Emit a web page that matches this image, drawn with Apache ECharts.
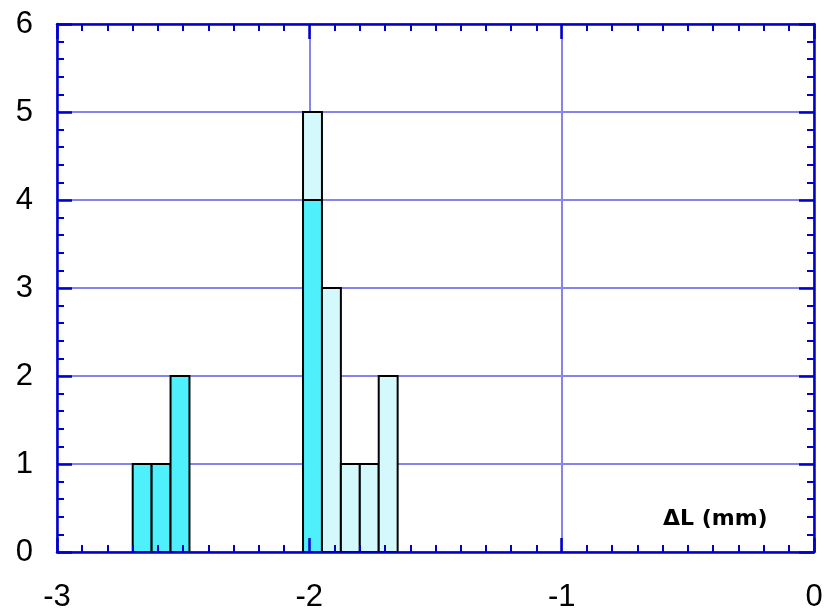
<!DOCTYPE html>
<html>
<head>
<meta charset="utf-8">
<script src="https://cdn.jsdelivr.net/npm/echarts@6/dist/echarts.min.js"></script>
<style>html,body{margin:0;padding:0;background:#fff;}#chart{width:830px;height:614px;}</style>
</head>
<body>
<div id="chart"></div>
<script>
// Histogram bins (ΔL, mm)
const binStarts = [-2.7, -2.625, -2.55, -2.025, -1.95, -1.875, -1.8, -1.725];
const binWidth = 0.075;
const cyanCounts  = [1, 1, 2, 4, 0, 0, 0, 0];
const lightCounts = [0, 0, 0, 1, 3, 1, 1, 2];
const xTicks = [-3, -2, -1, 0];
const yTicks = [0, 1, 2, 3, 4, 5, 6];
const axisTitle = 'ΔL (mm)';

const AXIS = '#0000cc';
const GRID = '#8585ea';
const LABEL_FONT = '"Liberation Sans", Arial, sans-serif';

const cyanData = [], lightData = [];
binStarts.forEach((s, i) => {
  if (cyanCounts[i] > 0) cyanData.push([s, s + binWidth, 0, cyanCounts[i]]);
  if (lightCounts[i] > 0) lightData.push([s, s + binWidth, cyanCounts[i], cyanCounts[i] + lightCounts[i]]);
});

function makeRender(color) {
  return function (params, api) {
    const p0 = api.coord([api.value(0), api.value(2)]);
    const p1 = api.coord([api.value(1), api.value(3)]);
    return {
      type: 'rect',
      shape: { x: p0[0], y: p1[1], width: p1[0] - p0[0], height: p0[1] - p1[1] },
      style: { fill: color, stroke: '#000', lineWidth: 2 }
    };
  };
}

const xMin = xTicks[0], xMax = xTicks[xTicks.length - 1];
const yMin = yTicks[0], yMax = yTicks[yTicks.length - 1];

const chart = echarts.init(document.getElementById('chart'), null, { renderer: 'canvas' });
chart.setOption({
  animation: false,
  grid: { left: 57, right: 16, top: 24, bottom: 62 },
  xAxis: [
    {
      type: 'value', position: 'bottom', min: xMin, max: xMax, interval: 1, z: 10,
      axisLine: { show: true, onZero: false, lineStyle: { color: AXIS, width: 2.5 } },
      axisTick: { show: true, inside: true, length: 14, lineStyle: { color: AXIS, width: 2.5 } },
      minorTick: { show: true, splitNumber: 10, length: 7, lineStyle: { color: AXIS, width: 2 } },
      axisLabel: { show: true, margin: 30, color: '#000', fontSize: 31, fontFamily: LABEL_FONT },
      splitLine: { show: false }
    },
    {
      type: 'value', position: 'top', min: xMin, max: xMax, interval: 1, z: 0,
      axisLine: { show: true, onZero: false, lineStyle: { color: AXIS, width: 2.5 } },
      axisTick: { show: true, inside: true, length: 15, lineStyle: { color: AXIS, width: 2.5 } },
      minorTick: { show: true, splitNumber: 10, length: 7, lineStyle: { color: AXIS, width: 2 } },
      axisLabel: { show: false },
      splitLine: { show: true, lineStyle: { color: GRID, width: 2 } }
    }
  ],
  yAxis: [
    {
      type: 'value', position: 'left', min: yMin, max: yMax, interval: 1, z: 10,
      axisLine: { show: true, onZero: false, lineStyle: { color: AXIS, width: 2.5 } },
      axisTick: { show: true, inside: true, length: 15, lineStyle: { color: AXIS, width: 2.5 } },
      minorTick: { show: true, splitNumber: 5, length: 7, lineStyle: { color: AXIS, width: 2 } },
      axisLabel: { show: true, margin: 24, color: '#000', fontSize: 31, fontFamily: LABEL_FONT },
      splitLine: { show: false }
    },
    {
      type: 'value', position: 'right', min: yMin, max: yMax, interval: 1, z: 0,
      axisLine: { show: true, onZero: false, lineStyle: { color: AXIS, width: 2.5 } },
      axisTick: { show: true, inside: true, length: 15, lineStyle: { color: AXIS, width: 2.5 } },
      minorTick: { show: true, splitNumber: 5, length: 7, lineStyle: { color: AXIS, width: 2 } },
      axisLabel: { show: false },
      splitLine: { show: true, lineStyle: { color: GRID, width: 2 } }
    }
  ],
  graphic: [{
    type: 'text', left: 663, top: 508, z: 20,
    style: { text: axisTitle, fill: '#000', font: 'bold 22px "DejaVu Sans", Verdana, sans-serif' }
  }],
  series: [
    { type: 'custom', xAxisIndex: 0, yAxisIndex: 0, z: 5, renderItem: makeRender('#4ef0fc'), data: cyanData, encode: { x: [0, 1], y: [2, 3] } },
    { type: 'custom', xAxisIndex: 0, yAxisIndex: 0, z: 5, renderItem: makeRender('#d3f9fc'), data: lightData, encode: { x: [0, 1], y: [2, 3] } }
  ]
});
</script>
</body>
</html>
